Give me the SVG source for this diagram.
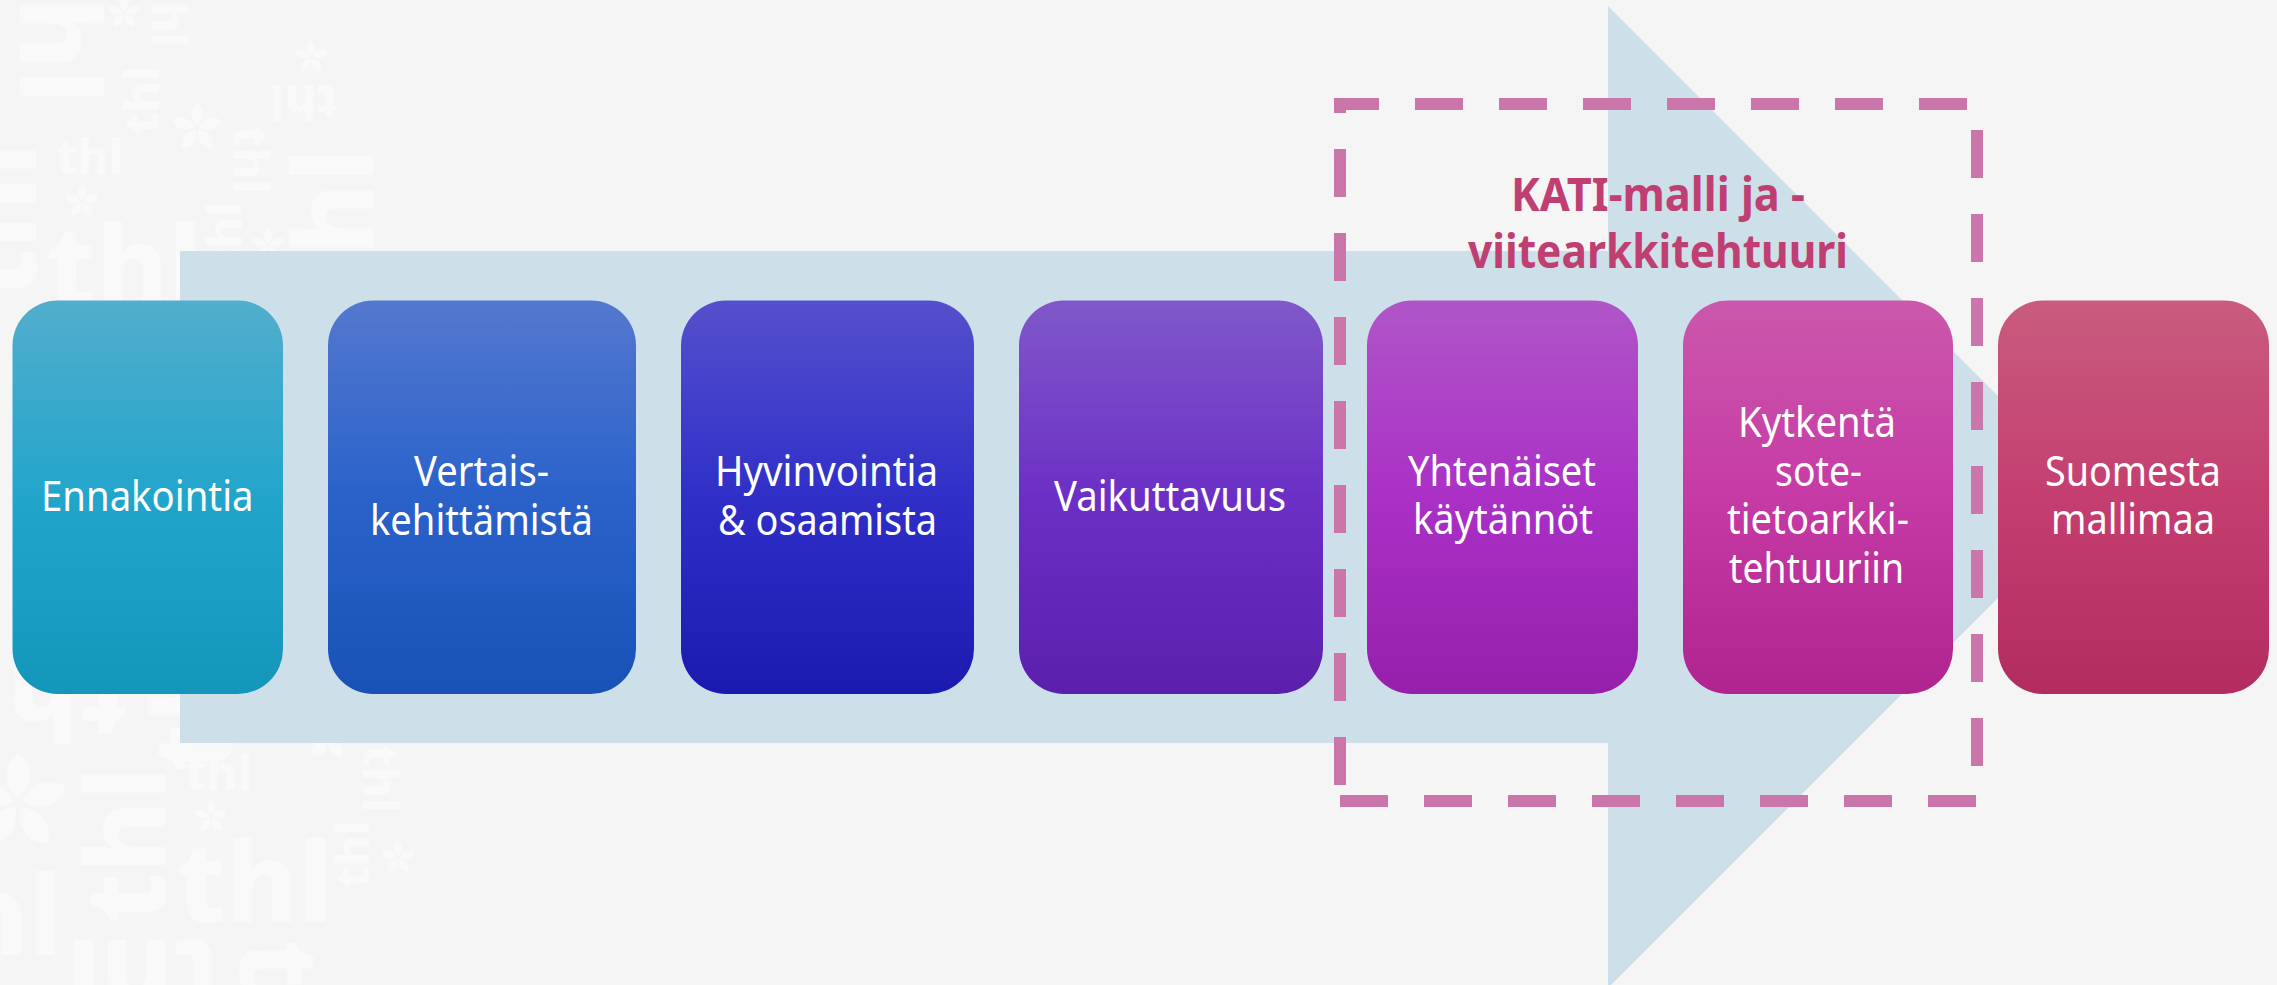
<svg xmlns="http://www.w3.org/2000/svg" xmlns:xlink="http://www.w3.org/1999/xlink" width="2277" height="985" viewBox="0 0 2277 985">
<style>
.wm{font-family:"Noto Sans","Liberation Sans",sans-serif;font-weight:800;fill:#f9f9f9}
.b{font-size:110px}.s{font-size:48px}
.fl{fill:#f9f9f9}
.lb{font-family:"Noto Sans","Liberation Sans",sans-serif;font-size:41px;fill:#fff}
.tt{font-family:"Noto Sans","Liberation Sans",sans-serif;font-size:46px;font-weight:700;fill:#c03f72}
.frame{fill:none;stroke:#cb76ab;stroke-width:12;stroke-dasharray:48 36}
</style>
<defs>
<g id="flower">
<path id="pt" d="M0 -.1C-.32 -.4 -.3 -.8 0 -1C.3 -.8 .32 -.4 0 -.1Z"/>
<use xlink:href="#pt" href="#pt" transform="rotate(72)"/>
<use xlink:href="#pt" href="#pt" transform="rotate(144)"/>
<use xlink:href="#pt" href="#pt" transform="rotate(216)"/>
<use xlink:href="#pt" href="#pt" transform="rotate(288)"/></g>
<linearGradient id="g1" x1="0" y1="0" x2="0" y2="1"><stop offset="0" stop-color="#52aecd"/><stop offset=".5" stop-color="#22a5cb"/><stop offset="1" stop-color="#1496bb"/></linearGradient>
<linearGradient id="g2" x1="0" y1="0" x2="0" y2="1"><stop offset="0" stop-color="#5478cf"/><stop offset=".5" stop-color="#2a62ca"/><stop offset="1" stop-color="#1852b5"/></linearGradient>
<linearGradient id="g3" x1="0" y1="0" x2="0" y2="1"><stop offset="0" stop-color="#5650cd"/><stop offset=".5" stop-color="#2f2fc8"/><stop offset="1" stop-color="#1b1ab0"/></linearGradient>
<linearGradient id="g4" x1="0" y1="0" x2="0" y2="1"><stop offset="0" stop-color="#7f58c9"/><stop offset=".5" stop-color="#6b2fc5"/><stop offset="1" stop-color="#5a20ac"/></linearGradient>
<linearGradient id="g5" x1="0" y1="0" x2="0" y2="1"><stop offset="0" stop-color="#b055c8"/><stop offset=".5" stop-color="#aa30c6"/><stop offset="1" stop-color="#9520ab"/></linearGradient>
<linearGradient id="g6" x1="0" y1="0" x2="0" y2="1"><stop offset="0" stop-color="#cb58ab"/><stop offset=".5" stop-color="#c63aa6"/><stop offset="1" stop-color="#b02490"/></linearGradient>
<linearGradient id="g7" x1="0" y1="0" x2="0" y2="1"><stop offset="0" stop-color="#c85c7e"/><stop offset=".5" stop-color="#c43e70"/><stop offset="1" stop-color="#b32c60"/></linearGradient>
</defs>
<rect width="2277" height="985" fill="#f5f5f5"/>
<g id="watermark">
<text class="wm b" transform="translate(20 -52) rotate(90)">thl</text>
<text class="wm s" transform="translate(159 134) rotate(-90)">thl</text>
<text class="wm s" transform="translate(152 -20) rotate(90)">thl</text>
<text class="wm b" transform="translate(36 298) rotate(-90)">thl</text>
<text class="wm s" x="56" y="174">thl</text>
<text class="wm b" x="47" y="306">thl</text>
<text class="wm s" transform="translate(338 85) rotate(180)">thl</text>
<text class="wm b" transform="translate(373 304) rotate(-90)">thl</text>
<text class="wm s" transform="translate(233 126) rotate(90)">thl</text>
<text class="wm s" transform="translate(242 270) rotate(-90)">thl</text>
<text class="wm b" transform="translate(128 660) rotate(180)">thl</text>
<text class="wm b" transform="translate(165 922) rotate(-90)">thl</text>
<text class="wm b" transform="translate(232 772) rotate(-90)">thl</text>
<text class="wm s" x="185" y="790">thl</text>
<text class="wm b" x="177" y="922">thl</text>
<text class="wm s" transform="translate(363 745) rotate(90)">thl</text>
<text class="wm s" transform="translate(370 888) rotate(-90)">thl</text>
<text class="wm b" transform="translate(222 940) rotate(180)">thl</text>
<text class="wm b" transform="translate(240 940) rotate(90)">thl</text>
<text class="wm b" x="62" y="955" text-anchor="end">thl</text>
<use class="fl" xlink:href="#flower" href="#flower" transform="translate(124 13) scale(17)"/>
<use class="fl" xlink:href="#flower" href="#flower" transform="translate(311 57) scale(17)"/>
<use class="fl" xlink:href="#flower" href="#flower" transform="translate(197 128) scale(25)"/>
<use class="fl" xlink:href="#flower" href="#flower" transform="translate(82 202) scale(17)"/>
<use class="fl" xlink:href="#flower" href="#flower" transform="translate(268 245) scale(17)"/>
<use class="fl" xlink:href="#flower" href="#flower" transform="translate(211 817) scale(17)"/>
<use class="fl" xlink:href="#flower" href="#flower" transform="translate(398 858) scale(17)"/>
<use class="fl" xlink:href="#flower" href="#flower" transform="translate(18 803) scale(50)"/>
<use class="fl" xlink:href="#flower" href="#flower" transform="translate(327 737) scale(25)"/>
</g>
<g id="connectors">
<path d="M180 251H1608V6L2099 497L1608 988V743H180Z" fill="#cddfe9"/>
</g>
<g id="node-1"><rect x="12.5" y="300.5" width="270.5" height="393.5" rx="45" fill="url(#g1)"/>
<text class="lb" x="41" y="511" textLength="212.5" lengthAdjust="spacingAndGlyphs">Ennakointia</text></g>
<g id="node-2"><rect x="328" y="300.5" width="308" height="393.5" rx="45" fill="url(#g2)"/>
<text class="lb" x="414" y="486" textLength="135" lengthAdjust="spacingAndGlyphs">Vertais-</text>
<text class="lb" x="370" y="535" textLength="223" lengthAdjust="spacingAndGlyphs">kehittämistä</text></g>
<g id="node-3"><rect x="681" y="300.5" width="293" height="393.5" rx="45" fill="url(#g3)"/>
<text class="lb" x="715" y="486" textLength="223" lengthAdjust="spacingAndGlyphs">Hyvinvointia</text>
<text class="lb" x="718" y="535" textLength="219" lengthAdjust="spacingAndGlyphs">&amp; osaamista</text></g>
<g id="node-4"><rect x="1019" y="300.5" width="304" height="393.5" rx="45" fill="url(#g4)"/>
<text class="lb" x="1054" y="511" textLength="232" lengthAdjust="spacingAndGlyphs">Vaikuttavuus</text></g>
<g id="node-5"><rect x="1367" y="300.5" width="271" height="393.5" rx="45" fill="url(#g5)"/>
<text class="lb" x="1408" y="486" textLength="188" lengthAdjust="spacingAndGlyphs">Yhtenäiset</text>
<text class="lb" x="1413" y="534" textLength="180" lengthAdjust="spacingAndGlyphs">käytännöt</text></g>
<g id="node-6"><rect x="1683" y="300.5" width="270" height="393.5" rx="45" fill="url(#g6)"/>
<text class="lb" x="1738" y="437" textLength="158" lengthAdjust="spacingAndGlyphs">Kytkentä</text>
<text class="lb" x="1775" y="486" textLength="87" lengthAdjust="spacingAndGlyphs">sote-</text>
<text class="lb" x="1727" y="534" textLength="182" lengthAdjust="spacingAndGlyphs">tietoarkki-</text>
<text class="lb" x="1729" y="583" textLength="175" lengthAdjust="spacingAndGlyphs">tehtuuriin</text></g>
<g id="node-7"><rect x="1998" y="300.5" width="271" height="393.5" rx="45" fill="url(#g7)"/>
<text class="lb" x="2045" y="486" textLength="176" lengthAdjust="spacingAndGlyphs">Suomesta</text>
<text class="lb" x="2051" y="534" textLength="164" lengthAdjust="spacingAndGlyphs">mallimaa</text></g>
<g id="kati-frame">
<path class="frame" d="M1340 801H1977V104H1340Z"/>
<text class="tt" x="1511" y="211" textLength="294" lengthAdjust="spacingAndGlyphs">KATI-malli ja -</text>
<text class="tt" x="1468" y="268" textLength="380" lengthAdjust="spacingAndGlyphs">viitearkkitehtuuri</text>
</g>
</svg>
